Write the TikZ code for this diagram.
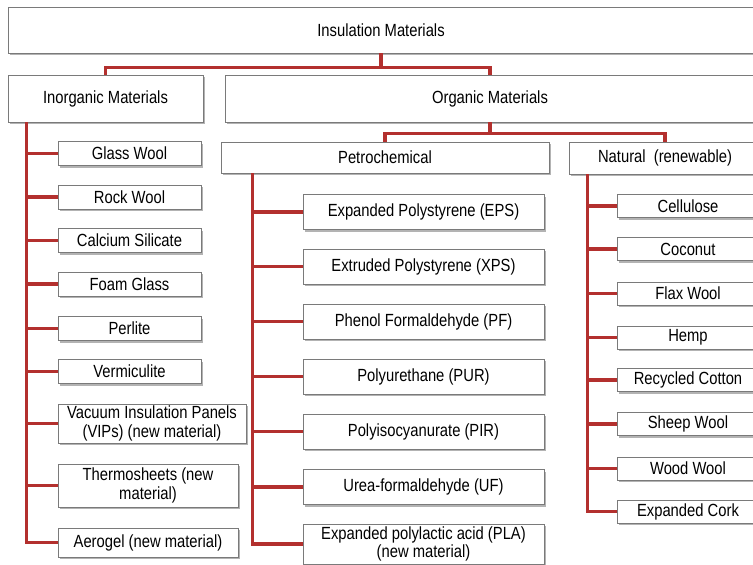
\documentclass[tikz,border=0pt]{standalone}
\usepackage{fontspec}
\setmainfont{Liberation Sans}[FakeStretch=0.84]
\usepackage{tikz}
\usetikzlibrary{shadows}
\definecolor{branch}{HTML}{B3302E}
\definecolor{frame}{HTML}{7A7A7A}
\definecolor{shade}{HTML}{A0A0A0}
\tikzset{%
    box/.style={draw=frame, fill=white, line width=0.8pt, inner sep=0pt, align=center,
        font=\fontsize{17.6}{18.5}\selectfont,
        drop shadow={shadow xshift=1.5pt, shadow yshift=-2pt, fill=shade, opacity=0.8}},
    inorgleaf/.style={box, minimum width=143pt, minimum height=24pt},
    petroleaf/.style={box, minimum width=241pt, minimum height=35pt},
    natleaf/.style={box, minimum width=142pt, minimum height=23pt},
    link/.style={draw=branch, line width=3.4pt}
}

\begin{document}
\begin{tikzpicture}[x=1pt, y=-1pt]
        \useasboundingbox (0,0) rectangle (753,565);

        \node[box, minimum width=746pt, minimum height=46pt] (insul) at (381,30) {Insulation Materials};
        \node[box, minimum width=195pt, minimum height=47pt] (inorg) at (105.5,98.5) {Inorganic Materials};
        \node[box, minimum width=530pt, minimum height=47pt] (org) at (490,98.5) {Organic Materials};
        \node[box, minimum width=328pt, minimum height=31pt] (petro) at (385,157.5) {Petrochemical};
        \node[box, minimum width=192pt, minimum height=32pt] (natural) at (665,158) {Natural\ \ (renewable)};

        % inorganic
        \node[inorgleaf] (glass) at (129.5,153.5) {Glass Wool};
        \node[inorgleaf] (rock) at (129.5,197) {Rock Wool};
        \node[inorgleaf] (calcium) at (129.5,240.5) {Calcium Silicate};
        \node[inorgleaf] (foam) at (129.5,284) {Foam Glass};
        \node[inorgleaf] (perlite) at (129.5,328.5) {Perlite};
        \node[inorgleaf] (vermic) at (129.5,371.5) {Vermiculite};
        \node[inorgleaf, minimum width=188pt, minimum height=39pt] (vips) at (152,423.5) {Vacuum Insulation Panels\\(VIPs) (new material)};
        \node[inorgleaf, minimum width=180pt, minimum height=43pt] (thermo) at (148,485.5) {Thermosheets (new\\material)};
        \node[inorgleaf, minimum width=180pt, minimum height=29pt] (aerogel) at (148,542.5) {Aerogel (new material)};

        % petrochemical
        \node[petroleaf] (eps) at (423.5,212) {Expanded Polystyrene (EPS)};
        \node[petroleaf] (xps) at (423.5,266.5) {Extruded Polystyrene (XPS)};
        \node[petroleaf] (pf) at (423.5,321.5) {Phenol Formaldehyde (PF)};
        \node[petroleaf] (pur) at (423.5,376.5) {Polyurethane (PUR)};
        \node[petroleaf] (pir) at (423.5,431.5) {Polyisocyanurate (PIR)};
        \node[petroleaf] (uf) at (423.5,487) {Urea-formaldehyde (UF)};
        \node[petroleaf, minimum height=40pt] (pla) at (423.5,544) {Expanded polylactic acid (PLA)\\(new material)};

        % natural
        \node[natleaf] (cellulose) at (688,206) {Cellulose};
        \node[natleaf] (coconut) at (688,249) {Coconut};
        \node[natleaf] (flax) at (688,293.5) {Flax Wool};
        \node[natleaf] (hemp) at (688,337.5) {Hemp};
        \node[natleaf] (cotton) at (688,380) {Recycled Cotton};
        \node[natleaf] (sheep) at (688,424) {Sheep Wool};
        \node[natleaf] (wood) at (688,468.5) {Wood Wool};
        \node[natleaf] (cork) at (688,511.5) {Expanded Cork};

        \draw[link] (insul.south) -- ++(0,14) coordinate (split1) -| (inorg.north);
        \draw[link] (split1) -| (org.north);
        \draw[link] (org.south) -- ++(0,11) coordinate (split2) -| (petro.north);
        \draw[link] (split2) -| (natural.north);

        \path (inorg.south west) ++(19,0) coordinate (trunk1);
        \draw[link] (trunk1) |- (glass.west);
        \draw[link] (trunk1) |- (rock.west);
        \draw[link] (trunk1) |- (calcium.west);
        \draw[link] (trunk1) |- (foam.west);
        \draw[link] (trunk1) |- (perlite.west);
        \draw[link] (trunk1) |- (vermic.west);
        \draw[link] (trunk1) |- (vips.west);
        \draw[link] (trunk1) |- (thermo.west);
        \draw[link] (trunk1) |- (aerogel.west);

        \path (petro.south west) ++(32,0) coordinate (trunk2);
        \draw[link] (trunk2) |- (eps.west);
        \draw[link] (trunk2) |- (xps.west);
        \draw[link] (trunk2) |- (pf.west);
        \draw[link] (trunk2) |- (pur.west);
        \draw[link] (trunk2) |- (pir.west);
        \draw[link] (trunk2) |- (uf.west);
        \draw[link] (trunk2) |- (pla.west);

        \path (natural.south west) ++(19,0) coordinate (trunk3);
        \draw[link] (trunk3) |- (cellulose.west);
        \draw[link] (trunk3) |- (coconut.west);
        \draw[link] (trunk3) |- (flax.west);
        \draw[link] (trunk3) |- (hemp.west);
        \draw[link] (trunk3) |- (cotton.west);
        \draw[link] (trunk3) |- (sheep.west);
        \draw[link] (trunk3) |- (wood.west);
        \draw[link] (trunk3) |- (cork.west);
    \end{tikzpicture}
\end{document}
